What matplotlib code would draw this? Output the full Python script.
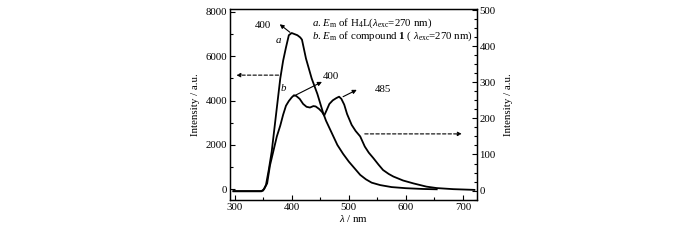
import numpy as np
import matplotlib
matplotlib.use("Agg")
import matplotlib.pyplot as plt
from matplotlib.ticker import MultipleLocator

plt.rcParams["font.family"] = "Liberation Serif"
plt.rcParams["mathtext.fontset"] = "custom"
plt.rcParams["mathtext.rm"] = "Liberation Serif"
plt.rcParams["mathtext.it"] = "Liberation Serif:italic"
plt.rcParams["mathtext.bf"] = "Liberation Serif:bold"

# curve a: emission of H4L (left axis)
wl_a = [298, 345, 350, 355, 360, 365, 370, 375, 380, 385, 390, 395, 400, 405,
        410, 415, 418, 425, 435, 445, 455, 460, 470, 480, 490, 500, 510, 520,
        530, 540, 555, 575, 600, 630, 654]
int_a = [-80, -80, -60, 200, 900, 1700, 2800, 3900, 5000, 5800, 6400, 6950, 7050,
         7000, 6950, 6850, 6750, 5900, 5000, 4300, 3450, 3100, 2550, 2000, 1600,
         1250, 950, 650, 450, 300, 190, 100, 50, 15, 0]

# curve b: emission of compound 1 (right axis)
wl_b = [298, 347, 352, 357, 362, 368, 374, 380, 385, 390, 395, 400, 404, 408,
        414, 420, 426, 432, 438, 442, 448, 453, 457, 461, 466, 472, 478, 483,
        487, 492, 497, 505, 512, 520, 528, 535, 543, 552, 560, 570, 578, 595,
        613, 636, 654, 683, 720]
int_b = [-2, -2, 5, 20, 70, 110, 150, 180, 210, 235, 248, 258, 264, 262, 254,
         240, 232, 230, 234, 233, 226, 218, 208, 222, 240, 250, 256, 260, 254,
         238, 212, 182, 165, 150, 122, 105, 90, 72, 57, 46, 39, 28, 20, 11, 7,
         4, 2]

fig = plt.figure(figsize=(7, 2.4), dpi=100)
ax = fig.add_axes([0.3286, 0.1667, 0.3524, 0.7946])
ax2 = ax.twinx()

ax.plot(wl_a, int_a, color="black", lw=1.3)
ax2.plot(wl_b, int_b, color="black", lw=1.3)

ax.set_xlim(292, 724)
ax.set_ylim(-482, 8120)
ax2.set_ylim(-26, 502)

ax.xaxis.set_major_locator(MultipleLocator(100))
ax.xaxis.set_minor_locator(MultipleLocator(50))
ax.yaxis.set_major_locator(MultipleLocator(2000))
ax.yaxis.set_minor_locator(MultipleLocator(1000))
ax2.yaxis.set_major_locator(MultipleLocator(100))
ax2.yaxis.set_minor_locator(MultipleLocator(25))

fs = 7.8
for a in (ax, ax2):
    a.tick_params(which="both", direction="in", labelsize=fs, width=0.8)
    a.tick_params(which="major", length=3.5)
    a.tick_params(which="minor", length=2)
    for s in a.spines.values():
        s.set_linewidth(0.9)
ax.tick_params(axis="x", pad=2)
ax.tick_params(axis="y", pad=2)
ax2.tick_params(axis="y", pad=2)

ax.set_xlabel(r"$\it{\lambda}$ / nm", fontsize=fs, labelpad=1)
ax.set_ylabel("Intensity / a.u.", fontsize=fs, labelpad=4)
ax2.set_ylabel("Intensity / a.u.", fontsize=fs, labelpad=6)

# legend text
ax.text(0.331, 0.927, r"$\it{a}$. $E_{\rm m}$ of H$_4$L($\lambda_{\rm exc}$=270 nm)",
        transform=ax.transAxes, fontsize=fs, va="center")
ax.text(0.331, 0.86, r"$\it{b}$. $E_{\rm m}$ of compound $\bf{1}$ ( $\lambda_{\rm exc}$=270 nm)",
        transform=ax.transAxes, fontsize=fs, va="center")

# curve labels
ax.text(376.5, 6725, "a", style="italic", fontsize=fs, ha="center", va="center")
ax.text(385, 4550, "b", style="italic", fontsize=fs, ha="center", va="center")

arrow = dict(arrowstyle="-|>", color="black", lw=0.8, mutation_scale=6,
             shrinkA=0, shrinkB=0)
ax.annotate("", xy=(379, 7445), xytext=(397, 7080), arrowprops=arrow)
ax.text(350, 7400, "400", fontsize=fs, ha="center", va="center")
ax2.annotate("", xy=(453, 301), xytext=(404, 262), arrowprops=arrow)
ax2.text(469, 316, "400", fontsize=fs, ha="center", va="center")
ax2.annotate("", xy=(514, 279), xytext=(490, 260), arrowprops=arrow)
ax2.text(560, 279, "485", fontsize=fs, ha="center", va="center")

dashed = dict(arrowstyle="-|>", color="black", lw=0.8, ls=(0, (3, 2)),
              mutation_scale=6, shrinkA=0, shrinkB=0)
ax.annotate("", xy=(303, 5150), xytext=(377, 5150), arrowprops=dashed)
ax2.annotate("", xy=(698, 157), xytext=(528, 157), arrowprops=dashed)

fig.savefig("out.png", dpi=100)
